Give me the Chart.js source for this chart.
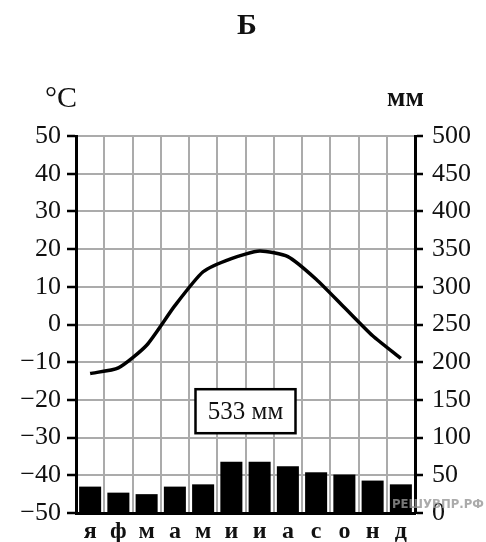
<!DOCTYPE html>
<html>
<head>
<meta charset="utf-8">
<script src="https://cdn.jsdelivr.net/npm/chart.js@4"></script>
<style>
  html, body { margin: 0; padding: 0; background: #fff; }
  canvas { display: block; }
</style>
</head>
<body>
<canvas id="chart" width="486" height="542"></canvas>
<script>
// месяцы и данные климатограммы
const months = ["я", "ф", "м", "а", "м", "и", "и", "а", "с", "о", "н", "д"];
const temperature = [-13, -11.5, -5.5, 5, 14, 17.5, 19.5, 18, 12, 4.5, -3, -9];
const precipitation = [35, 27, 25, 35, 38, 68, 68, 62, 54, 51, 43, 38];
const totalLabel = "533 мм";
const title = "Б";
const serif = "'Liberation Serif', 'Times New Roman', serif";

const minus = v => (v < 0 ? "\u2212" + Math.abs(v) : String(v));

// рамка с суммой осадков, подписи осей и водяной знак
const extras = {
  id: "extras",
  afterDraw(chart) {
    const { ctx, scales } = chart;
    const x = scales.x, y = scales.y;
    ctx.save();
    ctx.fillStyle = "#111";
    ctx.textAlign = "center";
    ctx.textBaseline = "alphabetic";
    ctx.font = "bold 30px " + serif;
    ctx.fillText(title, 247, 34);

    ctx.font = "30px " + serif;
    ctx.textAlign = "left";
    ctx.fillText("°C", 45, 107);
    ctx.font = "bold 27px " + serif;
    ctx.fillText("мм", 387, 106);

    // рамка "533 мм"
    const cx = (x.getPixelForValue(5) + x.getPixelForValue(6)) / 2;
    const cy = y.getPixelForValue(-23);
    const w = 100, h = 44;
    ctx.fillStyle = "#fff";
    ctx.fillRect(cx - w / 2, cy - h / 2, w, h);
    ctx.strokeStyle = "#000";
    ctx.lineWidth = 2.5;
    ctx.strokeRect(cx - w / 2, cy - h / 2, w, h);
    ctx.fillStyle = "#111";
    ctx.textAlign = "center";
    ctx.textBaseline = "middle";
    ctx.font = "25px " + serif;
    ctx.fillText(totalLabel, cx, cy + 1);

    ctx.fillStyle = "rgba(150,150,150,0.8)";
    ctx.textAlign = "left";
    ctx.font = "bold 13px 'DejaVu Sans Condensed', 'DejaVu Sans', sans-serif";
    ctx.fillText("РЕШУВПР.РФ", 392, 505);
    ctx.restore();
  }
};

new Chart(document.getElementById("chart"), {
  data: {
    labels: months,
    datasets: [
      {
        type: "line",
        data: temperature,
        yAxisID: "y",
        borderColor: "#000",
        borderWidth: 3.5,
        pointRadius: 0,
        tension: 0.2,
        order: 0
      },
      {
        type: "bar",
        data: precipitation,
        yAxisID: "y1",
        backgroundColor: "#000",
        barPercentage: 0.78,
        categoryPercentage: 1,
        order: 1
      }
    ]
  },
  options: {
    responsive: false,
    animation: false,
    devicePixelRatio: 1,
    layout: { padding: { top: 136, left: 0, right: 0, bottom: 0 } },
    plugins: { legend: { display: false }, tooltip: { enabled: false } },
    scales: {
      x: {
        offset: true,
        grid: { offset: true, color: "#ababab", lineWidth: 2, drawTicks: false },
        border: { color: "#000", width: 3 },
        ticks: { color: "#111", padding: 4, font: { family: serif, size: 24, weight: "bold" } },
        afterFit: s => { s.height = 29; }
      },
      y: {
        position: "left",
        min: -50,
        max: 50,
        ticks: { stepSize: 10, color: "#111", padding: 6, callback: minus, font: { family: serif, size: 26 } },
        grid: {
          color: c => (c.tick && c.tick.value === 0 ? "#000" : "rgba(0,0,0,0)"),
          lineWidth: 2,
          tickColor: "#000",
          tickWidth: 2.5,
          tickLength: 9
        },
        border: { color: "#000", width: 3 },
        afterFit: s => { s.width = 76; }
      },
      y1: {
        position: "right",
        min: 0,
        max: 500,
        ticks: { stepSize: 50, color: "#111", padding: 9, font: { family: serif, size: 26 } },
        grid: { color: "#ababab", lineWidth: 2, tickColor: "#000", tickWidth: 2.5, tickLength: 8 },
        border: { color: "#000", width: 3 },
        afterFit: s => { s.width = 71; }
      }
    }
  },
  plugins: [extras]
});
</script>
</body>
</html>
